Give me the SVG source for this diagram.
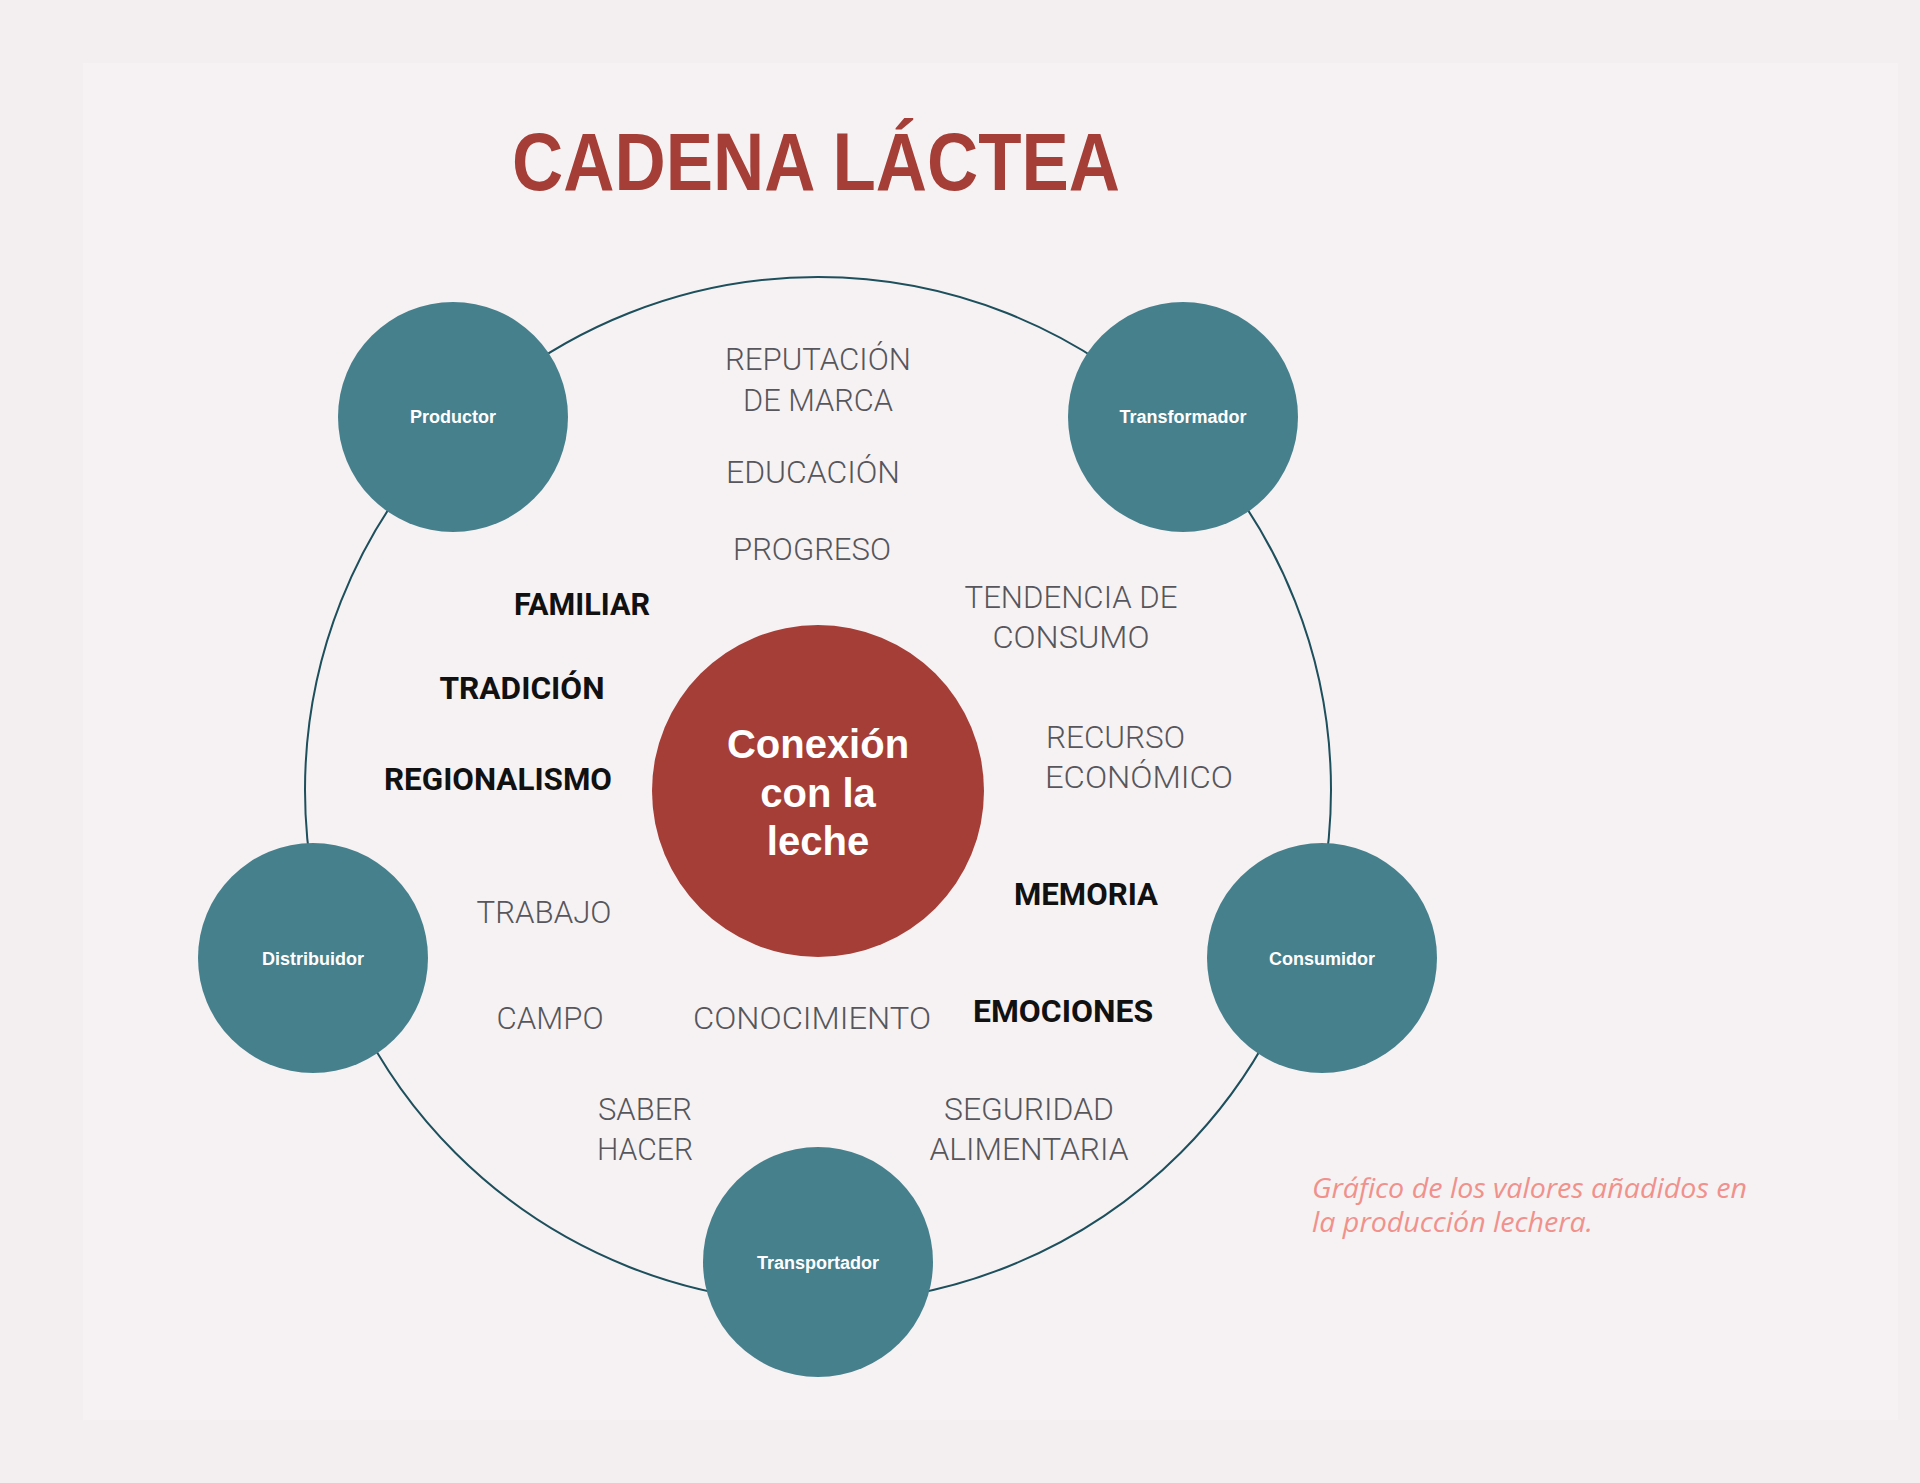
<svg xmlns="http://www.w3.org/2000/svg" width="1920" height="1483" viewBox="0 0 1920 1483">
<style>
.title{font-family:"Liberation Sans",Arial,sans-serif;font-weight:700;font-size:81px;fill:#a53e37}
.node{fill:#47808d}
.nlabel{font-family:"Liberation Sans",Arial,sans-serif;font-weight:700;font-size:18px;fill:#ffffff;text-anchor:middle}
.clabel{font-family:"Liberation Sans",Arial,sans-serif;font-weight:700;font-size:40px;fill:#ffffff;text-anchor:middle}
.g{font-family:Roboto,"Liberation Sans",sans-serif;font-weight:300;font-size:31px;fill:#56565b}
.b{font-family:Roboto,"Liberation Sans",sans-serif;font-weight:700;font-size:32px;fill:#111111}
.cap{font-family:"Open Sans","Liberation Sans",sans-serif;font-style:italic;font-size:27px;fill:#f0918c}
.m{text-anchor:middle}
</style>
<rect x="0" y="0" width="1920" height="1483" fill="#f3eff0"/>
<rect x="83" y="63" width="1815" height="1357" fill="#f6f2f3"/>
<text class="title" x="512" y="190" textLength="608" lengthAdjust="spacingAndGlyphs">CADENA LÁCTEA</text>
<g id="connectors">
<circle cx="818" cy="790" r="513" fill="none" stroke="#1d4f5c" stroke-width="2"/>
</g>
<g id="centro">
<circle cx="818" cy="791" r="166" fill="#a63e38"/>
<text class="clabel" x="818" y="758">Conexión</text>
<text class="clabel" x="818" y="807">con la</text>
<text class="clabel" x="818" y="855">leche</text>
</g>
<g id="productor">
<circle class="node" cx="453" cy="417" r="115"/>
<text class="nlabel" x="453" y="423">Productor</text>
</g>
<g id="transformador">
<circle class="node" cx="1183" cy="417" r="115"/>
<text class="nlabel" x="1183" y="423">Transformador</text>
</g>
<g id="distribuidor">
<circle class="node" cx="313" cy="958" r="115"/>
<text class="nlabel" x="313" y="965">Distribuidor</text>
</g>
<g id="consumidor">
<circle class="node" cx="1322" cy="958" r="115"/>
<text class="nlabel" x="1322" y="965">Consumidor</text>
</g>
<g id="transportador">
<circle class="node" cx="818" cy="1262" r="115"/>
<text class="nlabel" x="818" y="1269">Transportador</text>
</g>
<g id="valores">
<text class="g m" x="818" y="370" textLength="186" lengthAdjust="spacingAndGlyphs">REPUTACIÓN</text>
<text class="g m" x="818" y="411" textLength="150" lengthAdjust="spacingAndGlyphs">DE MARCA</text>
<text class="g m" x="813" y="483" textLength="174" lengthAdjust="spacingAndGlyphs">EDUCACIÓN</text>
<text class="g m" x="812" y="560" textLength="158" lengthAdjust="spacingAndGlyphs">PROGRESO</text>
<text class="g m" x="1071" y="608" textLength="213" lengthAdjust="spacingAndGlyphs">TENDENCIA DE</text>
<text class="g m" x="1071" y="648" textLength="157" lengthAdjust="spacingAndGlyphs">CONSUMO</text>
<text class="g" x="1046" y="748" textLength="139" lengthAdjust="spacingAndGlyphs">RECURSO</text>
<text class="g" x="1045" y="788" textLength="188" lengthAdjust="spacingAndGlyphs">ECONÓMICO</text>
<text class="g m" x="544" y="923" textLength="135" lengthAdjust="spacingAndGlyphs">TRABAJO</text>
<text class="g m" x="550" y="1029" textLength="107" lengthAdjust="spacingAndGlyphs">CAMPO</text>
<text class="g m" x="812" y="1029" textLength="238" lengthAdjust="spacingAndGlyphs">CONOCIMIENTO</text>
<text class="g m" x="645" y="1120" textLength="94" lengthAdjust="spacingAndGlyphs">SABER</text>
<text class="g m" x="645" y="1160" textLength="96" lengthAdjust="spacingAndGlyphs">HACER</text>
<text class="g m" x="1029" y="1120" textLength="170" lengthAdjust="spacingAndGlyphs">SEGURIDAD</text>
<text class="g m" x="1029" y="1160" textLength="199" lengthAdjust="spacingAndGlyphs">ALIMENTARIA</text>
<text class="b m" x="582" y="615" textLength="136" lengthAdjust="spacingAndGlyphs">FAMILIAR</text>
<text class="b m" x="522" y="699" textLength="165" lengthAdjust="spacingAndGlyphs">TRADICIÓN</text>
<text class="b m" x="498" y="790" textLength="228" lengthAdjust="spacingAndGlyphs">REGIONALISMO</text>
<text class="b m" x="1086" y="905" textLength="144" lengthAdjust="spacingAndGlyphs">MEMORIA</text>
<text class="b m" x="1063" y="1022" textLength="180" lengthAdjust="spacingAndGlyphs">EMOCIONES</text>
</g>
<text class="cap" x="1312" y="1198" textLength="435" lengthAdjust="spacingAndGlyphs">Gráfico de los valores añadidos en</text>
<text class="cap" x="1312" y="1232" textLength="281" lengthAdjust="spacingAndGlyphs">la producción lechera.</text>
</svg>
